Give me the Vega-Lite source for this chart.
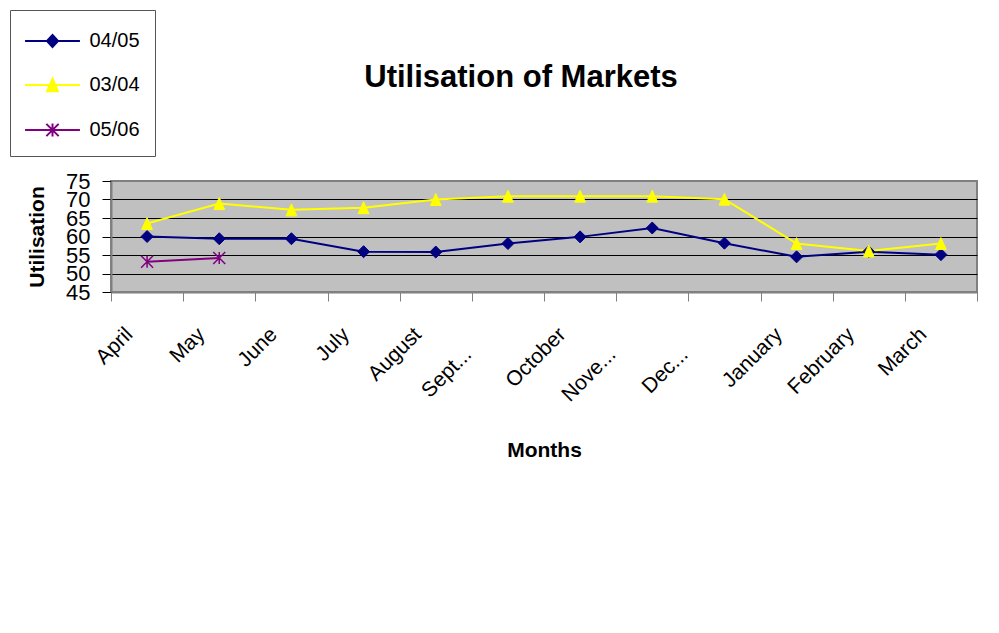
{
  "$schema": "https://vega.github.io/schema/vega-lite/v6.json",
  "width": 866,
  "height": 111,
  "autosize": {"type": "none"},
  "padding": {"left": 111, "top": 181, "right": 22, "bottom": 341},
  "background": "white",
  "config": {
    "font": "Liberation Sans",
    "view": {"fill": "#C0C0C0", "stroke": "#808080", "strokeWidth": 2}
  },
  "title": {
    "text": "Utilisation of Markets",
    "fontSize": 31,
    "fontWeight": "bold",
    "font": "Liberation Sans",
    "color": "black",
    "anchor": "middle",
    "dx": -23,
    "dy": 108,
    "baseline": "alphabetic",
    "offset": 0
  },
  "data": {
    "values": [
      {"month": "April", "series": "04/05", "value": 60},
      {"month": "May", "series": "04/05", "value": 59.4},
      {"month": "June", "series": "04/05", "value": 59.4},
      {"month": "July", "series": "04/05", "value": 55.9},
      {"month": "August", "series": "04/05", "value": 55.8},
      {"month": "September", "series": "04/05", "value": 58.1},
      {"month": "October", "series": "04/05", "value": 59.9},
      {"month": "November", "series": "04/05", "value": 62.3},
      {"month": "December", "series": "04/05", "value": 58.2},
      {"month": "January", "series": "04/05", "value": 54.5},
      {"month": "February", "series": "04/05", "value": 55.9},
      {"month": "March", "series": "04/05", "value": 55.1},
      {"month": "April", "series": "03/04", "value": 63.5},
      {"month": "May", "series": "03/04", "value": 68.9},
      {"month": "June", "series": "03/04", "value": 67.2},
      {"month": "July", "series": "03/04", "value": 67.8},
      {"month": "August", "series": "03/04", "value": 70},
      {"month": "September", "series": "03/04", "value": 70.9},
      {"month": "October", "series": "03/04", "value": 70.9},
      {"month": "November", "series": "03/04", "value": 70.9},
      {"month": "December", "series": "03/04", "value": 70.1},
      {"month": "January", "series": "03/04", "value": 58.1},
      {"month": "February", "series": "03/04", "value": 56.1},
      {"month": "March", "series": "03/04", "value": 58.1},
      {"month": "April", "series": "05/06", "value": 53.2},
      {"month": "May", "series": "05/06", "value": 54.2}
    ]
  },
  "encoding": {
    "x": {
      "field": "month",
      "type": "nominal",
      "sort": ["April", "May", "June", "July", "August", "September", "October", "November", "December", "January", "February", "March"],
      "bandPosition": 0.5,
      "scale": {"type": "band", "paddingInner": 0, "paddingOuter": 0},
      "axis": {
        "title": "Months",
        "titleFontSize": 21,
        "titleFontWeight": "bold",
        "titleColor": "black",
        "titleY": 164,
        "titleBaseline": "alphabetic",
        "labelAngle": -45,
        "labelAlign": "right",
        "labelBaseline": "middle",
        "labelFontSize": 21,
        "labelColor": "black",
        "labelOverlap": false,
        "labelBound": false,
        "labelLimit": 0,
        "labelExpr": "datum.label == 'September' ? 'Sept...' : datum.label == 'November' ? 'Nove...' : datum.label == 'December' ? 'Dec...' : datum.label",
        "labelPadding": {"condition": {"test": "indexof(['September','November','December'], datum.value) >= 0", "value": 50}, "value": 30},
        "labelOffset": {"condition": {"test": "indexof(['September','November','December'], datum.value) >= 0", "value": -40}, "value": -18},
        "tickBand": "extent",
        "tickSize": 9,
        "tickColor": "#808080",
        "domainColor": "#808080",
        "domainWidth": 2,
        "grid": false
      }
    },
    "y": {
      "field": "value",
      "type": "quantitative",
      "scale": {"domain": [45, 75], "nice": false, "zero": false},
      "axis": {
        "title": "Utilisation",
        "titleFontSize": 21,
        "titleFontWeight": "bold",
        "titleColor": "black",
        "titleAngle": -90,
        "titleX": -68,
        "titleY": 55.5,
        "titleAlign": "center",
        "titleBaseline": "alphabetic",
        "values": [45, 50, 55, 60, 65, 70, 75],
        "labelFontSize": 22,
        "labelColor": "black",
        "labelPadding": 12,
        "labelOverlap": false,
        "labelFlush": false,
        "labelBound": false,
        "tickSize": 9,
        "tickColor": "black",
        "domainColor": "#808080",
        "domainWidth": 2,
        "grid": true,
        "gridColor": {"condition": {"test": "datum.value == 75 || datum.value == 45", "value": "transparent"}, "value": "black"},
        "gridWidth": 1,
        "gridOpacity": 1
      }
    }
  },
  "layer": [
    {
      "mark": {"type": "line", "strokeWidth": 2},
      "encoding": {
        "color": {
          "field": "series",
          "type": "nominal",
          "sort": ["04/05", "03/04", "05/06"],
          "scale": {"domain": ["04/05", "03/04", "05/06"], "range": ["#000080", "#FFFF00", "#800080"]},
          "legend": {
            "orient": "none",
            "legendX": -101,
            "legendY": -171,
            "title": null,
            "padding": 15,
            "strokeColor": "#555555",
            "fillColor": "white",
            "labelFontSize": 20,
            "labelColor": "black",
            "labelFont": "Liberation Sans",
            "symbolSize": 900,
            "symbolOffset": 11.5,
            "labelOffset": 21,
            "rowPadding": 18,
            "encode": {
              "symbols": {
                "update": {
                  "shape": {"signal": "datum.value === '04/05' ? 'M-1.83,0H1.83M0,-0.4L0.37,0L0,0.4L-0.37,0Z' : datum.value === '03/04' ? 'M-1.83,0H1.83M0,-0.42L0.36,0.42H-0.36Z' : 'M-1.83,0H1.83M-0.41,-0.41L0.41,0.41M-0.41,0.41L0.41,-0.41M0,-0.43V0.43'"},
                  "stroke": {"signal": "scale('color', datum.value)"},
                  "fill": {"signal": "scale('color', datum.value)"},
                  "strokeWidth": {"value": 2},
                  "opacity": {"value": 1},
                  "fillOpacity": {"value": 1}
                }
              }
            }
          }
        }
      }
    },
    {
      "transform": [{"filter": "datum.series === '04/05'"}],
      "mark": {"type": "point", "shape": "diamond", "filled": true, "size": 144, "opacity": 1, "fill": "#000080", "stroke": "#000080", "strokeWidth": 1}
    },
    {
      "transform": [{"filter": "datum.series === '03/04'"}],
      "mark": {"type": "point", "shape": "M0,-1L0.9,1H-0.9Z", "filled": true, "size": 144, "opacity": 1, "fill": "#FFFF00", "stroke": "#FFFF00", "strokeWidth": 1}
    },
    {
      "transform": [{"filter": "datum.series === '05/06'"}],
      "mark": {"type": "point", "shape": "M-1,-1L1,1M-1,1L1,-1M0,-1V1", "filled": true, "size": 144, "opacity": 1, "fill": "#800080", "stroke": "#800080", "strokeWidth": 1.5}
    }
  ]
}
